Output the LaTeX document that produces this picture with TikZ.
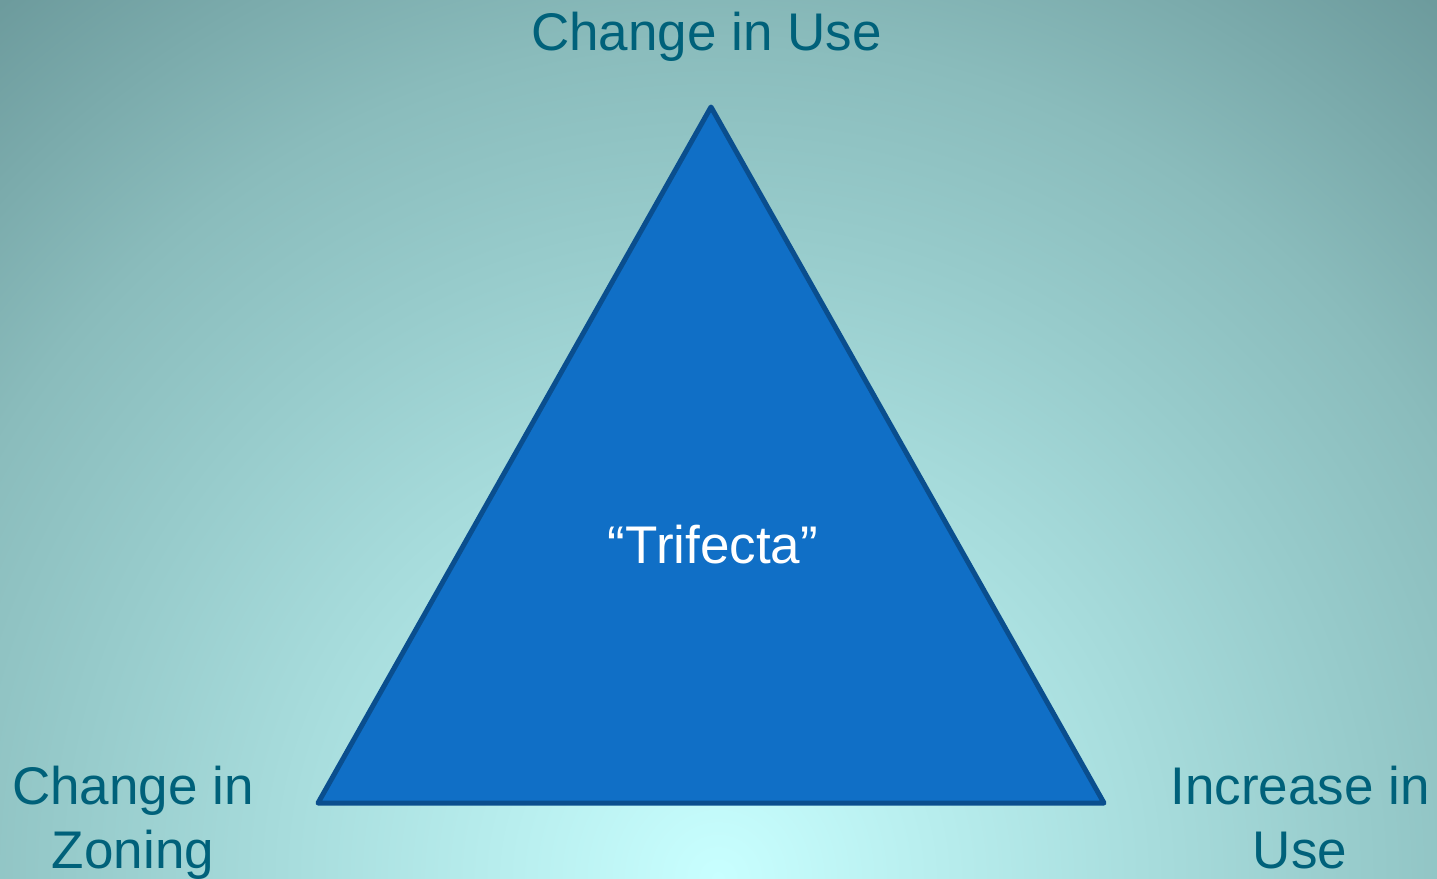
\documentclass[tikz,border=0pt]{standalone}
\usepackage{fontspec}
\setmainfont{Liberation Sans}
\definecolor{bgin}{RGB}{200,255,255}
\definecolor{bgmida}{RGB}{150,202,202}
\definecolor{bgmidb}{RGB}{138,188,188}
\definecolor{bgout}{RGB}{108,154,156}
\definecolor{labelc}{RGB}{0,97,122}
\definecolor{trifill}{RGB}{16,111,198}
\definecolor{triline}{RGB}{10,78,142}
\pgfdeclareradialshading{bgshade}{\pgfpoint{0bp}{0bp}}{color(0bp)=(bgin); color(14.5bp)=(bgmida); color(18.4bp)=(bgmidb); color(25bp)=(bgout); color(50bp)=(bgout)}
\tikzset{
  lbl/.style={text=labelc, font=\fontsize{53}{63.6}\selectfont, inner sep=0pt, align=center},
  tri/.style={fill=trifill, draw=triline, line width=5pt, line join=round},
}
\begin{document}
\begin{tikzpicture}[x=1pt,y=-1pt]
  \useasboundingbox (0,0) rectangle (1437,878);
  \begin{scope}
    \clip (0,0) rectangle (1437,878);
    \fill[shading=bgshade] (718,878) circle (1140);
  \end{scope}
  \coordinate (apex) at (711,107);
  \coordinate (bl) at (318,803);
  \coordinate (br) at (1104,803);
  \draw[tri] (apex) -- (bl) -- (br) -- cycle;
  \node[lbl, anchor=base] (top) at (706.5,50) {Change in Use};
  \node[lbl, anchor=base, text=white] (mid) at (713,563) {“Trifecta”};
  \node[lbl, anchor=base] (left) at (133,868) {Change in\\Zoning};
  \node[lbl, anchor=base] (right) at (1300,868) {Increase in\\Use};
\end{tikzpicture}
\end{document}
